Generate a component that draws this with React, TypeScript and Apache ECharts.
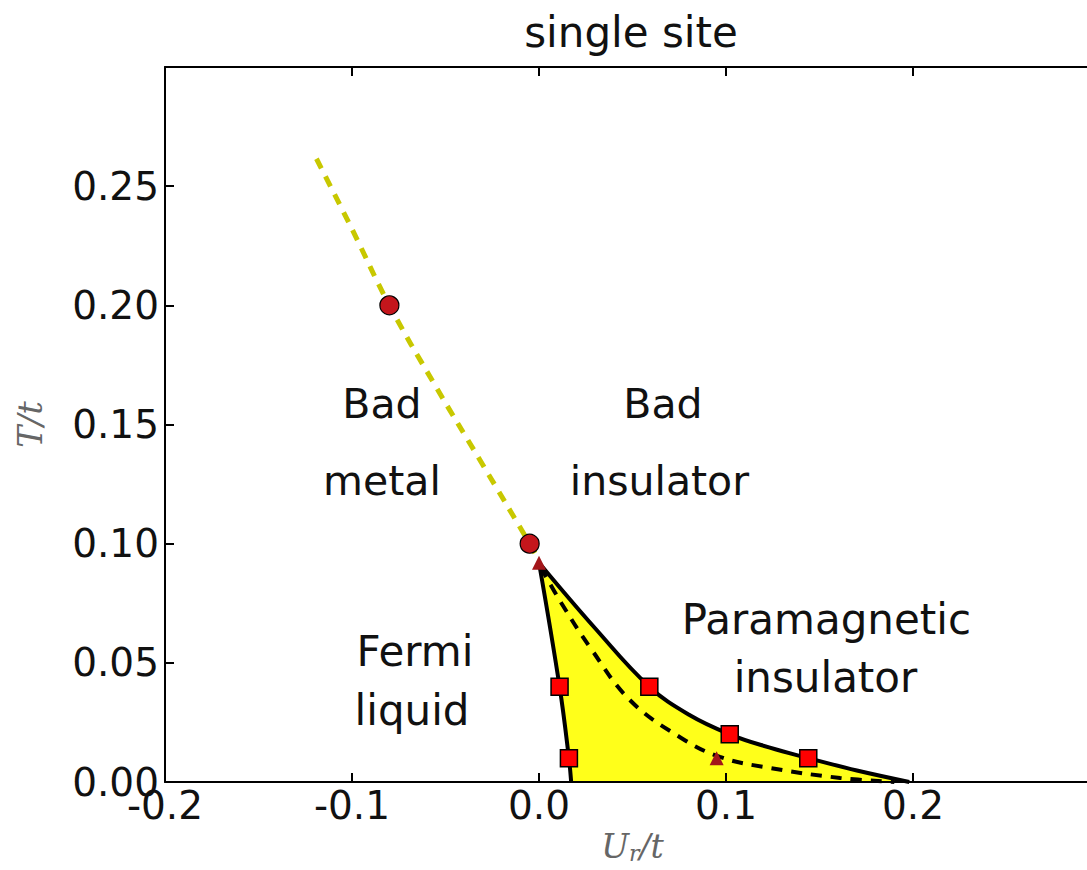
import React, { useEffect, useRef } from "react";
import * as echarts from "echarts";

// ---- data ----
const yellowDashed: number[][] = [
  [-0.119, 0.2615],
  [-0.1, 0.232],
  [-0.08, 0.2],
  [-0.056, 0.167],
  [-0.03, 0.133],
  [-0.005, 0.1],
  [0.0, 0.093],
];
const circles: number[][] = [
  [-0.08, 0.2],
  [-0.005, 0.1],
];
const triangles: number[][] = [
  [0.0, 0.092],
  [0.095, 0.01],
];
const leftBoundary: number[][] = [
  [0.0, 0.092],
  [0.011, 0.04],
  [0.016, 0.01],
  [0.0172, 0.0],
];
const rightBoundary: number[][] = [
  [0.0, 0.092],
  [0.03, 0.0645],
  [0.059, 0.04],
  [0.08, 0.0283],
  [0.102, 0.02],
  [0.123, 0.0145],
  [0.144, 0.01],
  [0.17, 0.0048],
  [0.198, 0.0],
];
const dashedBoundary: number[][] = [
  [0.001, 0.09],
  [0.012, 0.075],
  [0.0273, 0.0565],
  [0.0487, 0.0343],
  [0.0754, 0.0188],
  [0.0968, 0.0105],
  [0.1235, 0.0059],
  [0.161, 0.0017],
  [0.19, 0.0],
];
const squares: number[][] = [
  [0.011, 0.04],
  [0.016, 0.01],
  [0.059, 0.04],
  [0.102, 0.02],
  [0.144, 0.01],
];
const regionText: string[] = [
  "Bad",
  "metal",
  "Bad",
  "insulator",
  "Fermi",
  "liquid",
  "Paramagnetic",
  "insulator",
];
const regionX: number[] = [-0.084, -0.084, 0.0663, 0.0644, -0.0663, -0.0679, 0.1537, 0.1532];
const regionY: number[] = [0.1586, 0.1264, 0.1586, 0.1264, 0.0548, 0.0301, 0.0682, 0.0439];
const regionSize: number[] = [41, 41, 41, 41, 42, 42, 42, 42];

const X_MIN = -0.2;
const X_MAX = 0.3;
const X_STEP = 0.1;
const Y_MIN = 0;
const Y_MAX = 0.3;
const Y_STEP = 0.05;

const FONT = "DejaVu Sans";

export default function App() {
  const ref = useRef<HTMLDivElement>(null);

  useEffect(() => {
    if (!ref.current) return;
    const chart = echarts.init(ref.current, undefined, { renderer: "svg" });

    const axisLine = { onZero: false, lineStyle: { color: "#000", width: 2 } };
    const axisTick = { inside: true, length: 9, lineStyle: { color: "#000", width: 2 } };
    const SMOOTH = 0.4;

    const option: any = {
      animation: false,
      backgroundColor: "#fff",
      grid: { left: 165, right: 0, top: 67, bottom: 88, show: false },
      graphic: [
        {
          type: "text",
          x: 631,
          y: 32,
          style: {
            text: "single site",
            font: `42px "${FONT}"`,
            fill: "#111",
            textAlign: "center",
            textVerticalAlign: "middle",
          },
        },
      ],
      xAxis: [
        {
          type: "value",
          min: X_MIN,
          max: X_MAX,
          interval: X_STEP,
          position: "bottom",
          z: 5,
          axisLine,
          axisTick,
          splitLine: { show: false },
          axisLabel: {
            fontFamily: FONT,
            fontSize: 39,
            color: "#111",
            margin: 4,
            showMaxLabel: false,
            formatter: (v: number) => (Math.abs(v) < 1e-9 ? "0.0" : v.toFixed(1)),
          },
          name: "{a|U}{b|r}{a|/t}",
          nameLocation: "middle",
          nameGap: 46,
          nameTextStyle: {
            rich: {
              a: { fontFamily: "DejaVu Serif", fontStyle: "italic", fontSize: 33, color: "#666" },
              b: { fontFamily: "DejaVu Serif", fontStyle: "italic", fontSize: 22, color: "#666", padding: [14, 0, 0, 0] },
            },
          },
        },
        {
          type: "value",
          min: X_MIN,
          max: X_MAX,
          interval: X_STEP,
          position: "top",
          z: 5,
          axisLine,
          axisTick,
          splitLine: { show: false },
          axisLabel: { show: false },
        },
      ],
      yAxis: [
        {
          type: "value",
          min: Y_MIN,
          max: Y_MAX,
          interval: Y_STEP,
          position: "left",
          z: 5,
          axisLine,
          axisTick,
          splitLine: { show: false },
          axisLabel: {
            fontFamily: FONT,
            fontSize: 39,
            color: "#111",
            margin: 6,
            showMaxLabel: false,
            formatter: (v: number) => v.toFixed(2),
          },
          name: "T/t",
          nameLocation: "middle",
          nameGap: 118,
          nameTextStyle: {
            fontFamily: "DejaVu Serif",
            fontStyle: "italic",
            fontSize: 33,
            color: "#666",
          },
        },
      ],
      series: [
        {
          type: "line",
          data: rightBoundary,
          smooth: SMOOTH,
          symbol: "none",
          lineStyle: { width: 0 },
          areaStyle: { color: "#ffff1a", opacity: 1 },
          z: 1,
          silent: true,
        },
        {
          type: "line",
          data: leftBoundary,
          smooth: SMOOTH,
          symbol: "none",
          lineStyle: { width: 0 },
          areaStyle: { color: "#ffffff", opacity: 1 },
          z: 1,
          silent: true,
        },
        {
          type: "line",
          data: yellowDashed,
          smooth: 0.4,
          symbol: "none",
          lineStyle: { color: "#c8c800", width: 5, type: [11, 9] },
          z: 3,
        },
        {
          type: "line",
          data: dashedBoundary,
          smooth: SMOOTH,
          symbol: "none",
          lineStyle: { color: "#000", width: 4, type: [11, 9] },
          z: 3,
        },
        {
          type: "line",
          data: rightBoundary,
          smooth: SMOOTH,
          symbol: "none",
          lineStyle: { color: "#000", width: 4 },
          z: 3,
        },
        {
          type: "line",
          data: leftBoundary,
          smooth: SMOOTH,
          symbol: "none",
          lineStyle: { color: "#000", width: 4 },
          z: 3,
        },
        {
          type: "scatter",
          data: triangles,
          symbol: "triangle",
          symbolSize: 14,
          itemStyle: { color: "#a3161a", opacity: 1 },
          z: 4,
        },
        {
          type: "scatter",
          data: circles,
          symbol: "circle",
          symbolSize: 19,
          itemStyle: { color: "#c4161c", borderColor: "#000", borderWidth: 1.2, opacity: 1 },
          z: 4,
        },
        {
          type: "scatter",
          data: squares,
          symbol: "rect",
          symbolSize: 17,
          itemStyle: { color: "#ff0000", borderColor: "#000", borderWidth: 1.5, opacity: 1 },
          z: 4,
        },
        {
          type: "scatter",
          data: regionText.map((t, i) => ({
            value: [regionX[i], regionY[i]],
            name: t,
            label: { fontSize: regionSize[i] },
          })),
          symbolSize: 0,
          silent: true,
          z: 6,
          itemStyle: { opacity: 1 },
          label: {
            show: true,
            position: "inside",
            formatter: (p: any) => p.name,
            fontFamily: FONT,
            fontSize: 41,
            color: "#111",
          },
        },
      ],
    };

    chart.setOption(option);
    return () => chart.dispose();
  }, []);

  return (
    <div style={{ position: "fixed", left: 0, top: 0, width: 1087, height: 870, overflow: "hidden", background: "#fff" }}>
      <div ref={ref} style={{ width: 1100, height: 870 }} />
    </div>
  );
}
